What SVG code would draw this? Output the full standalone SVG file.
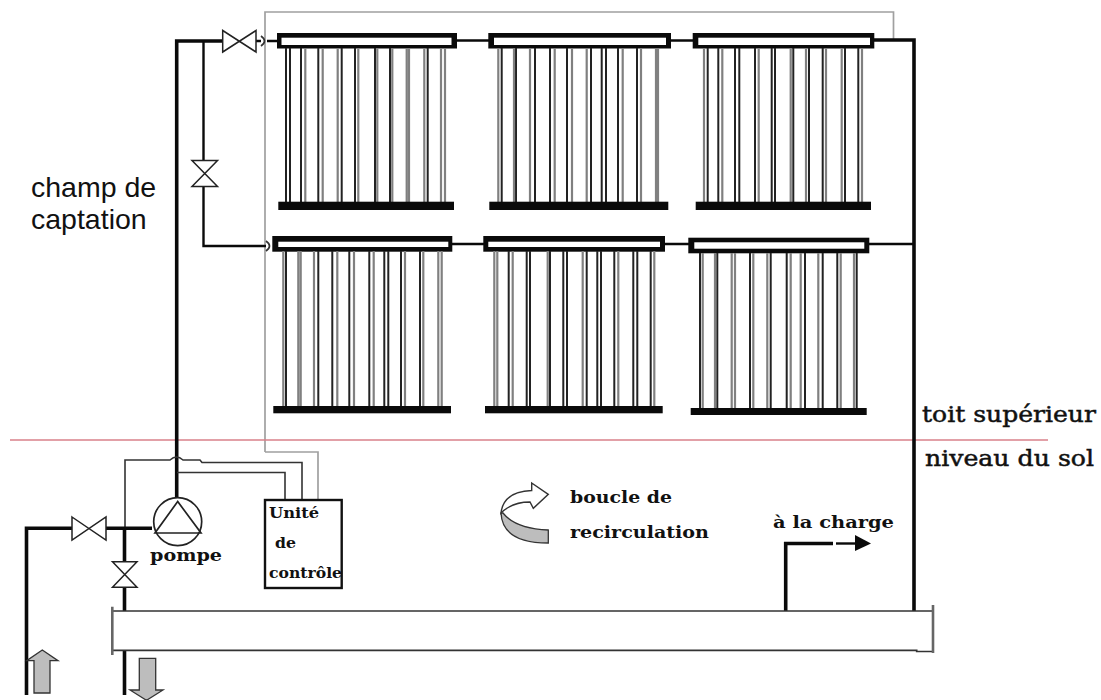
<svg xmlns="http://www.w3.org/2000/svg" width="1101" height="700" viewBox="0 0 1101 700">
<style>
.hk{fill:#0a0a0a}.hw{fill:#fff}
.tk{stroke:#222;stroke-width:2;fill:none}
.tg{stroke:#808080;stroke-width:2.2;fill:none}
.p{stroke:#0a0a0a;fill:none;stroke-linejoin:miter}
.w3{stroke-width:3.6}.w2{stroke-width:2.4}
.wire{stroke:#333;stroke-width:1.6;fill:none}
.gw{stroke:#a0a0a0;stroke-width:1.7;fill:none}
.v{fill:#fff;stroke:#222;stroke-width:1.5}
.ga{fill:#bdbdbd;stroke:#333;stroke-width:1.3}
.s{font-family:"DejaVu Serif","Liberation Serif",serif;font-weight:700;fill:#111}
.n{font-weight:400;stroke:#111;stroke-width:.5}
.a{font-family:"Liberation Sans",Arial,sans-serif;fill:#111;font-size:28.500px}
</style>
<rect width="1101" height="700" fill="#fff"/>
<g id="connectors">
<path class="gw" d="M265 452V12H893.500V40"/>
<path class="gw" d="M265 452H318V500"/>
<path d="M10 440H1048" stroke="#d9808a" stroke-width="1.500" fill="none"/>
<path class="p w3" d="M176.700 501V41H223"/>
<path class="p w2" d="M203.500 41V160M203.500 187V246H266"/>
<path class="p w2" d="M256 41H261M267 41H277"/>
<path class="gw" style="stroke:#333" d="M261 36Q268 41 261 46M266 241Q273 246 266 251"/>
<path class="p w2" d="M456 40.500H489M671 40.500H693M452 244H484M665 244H689M869 244H914"/>
<path class="p w3" d="M874 40H914V611"/>
<path class="wire" d="M125 528V460H170Q176.500 454 183 460H200L202 462.500H302V500"/>
<path class="wire" d="M177 472.500H285V500"/>
<path class="p w3" d="M72 528.300H26.500V695M106 528.300H152"/>
<path class="p w3" d="M124.500 528V561M124.500 587V611M124.500 650V695"/>
<path class="p w3" d="M785.700 611V543.500H833"/>
<path class="p w2" d="M836 543.500H856"/>
<path d="M855 535L871 543.500L855 551Z" fill="#0a0a0a"/>
</g>
<g id="collector-1">
<rect class="hk" x="277" y="33" width="180" height="15.500"/><rect class="hw" x="281.500" y="37.700" width="170" height="7.300"/>
<path class="tk" d="M286 48V203M290 48V203M301 48V203M318.300 48V203M341.700 48V203M355 48V203M375 48V203M390 48V203M427.700 48V203"/>
<path class="tg" d="M305.300 48V203M322.700 48V203M337.700 48V203M358.300 48V203M377.300 48V203M392.300 48V203M406.700 48V203M409 48V203M424.300 48V203M441 48V203M445 48V203"/>
<rect class="hk" x="278.300" y="201.700" width="175.700" height="8.300"/>
</g>
<g id="collector-2">
<rect class="hk" x="488.300" y="33" width="182.700" height="15.500"/><rect class="hw" x="494" y="37.700" width="172" height="7.300"/>
<path class="tk" d="M501.700 48V203M516 48V203M535 48V203M550 48V203M567 48V203M591 48V203M601.700 48V203M606 48V203M618 48V203M637 48V203"/>
<path class="tg" d="M498.300 48V203M514 48V203M530 48V203M554.700 48V203M572 48V203M586.700 48V203M622.700 48V203M641 48V203M656 48V203M658 48V203"/>
<rect class="hk" x="489.300" y="201.700" width="179" height="8.300"/>
</g>
<g id="collector-3">
<rect class="hk" x="692.700" y="33" width="181.600" height="15.500"/><rect class="hw" x="698.300" y="37.700" width="171.700" height="7.300"/>
<path class="tk" d="M707.700 48V203M718.300 48V203M735 48V203M739.300 48V203M755 48V203M771.700 48V203M775 48V203M793.300 48V203M809 48V203M822.700 48V203M845 48V203M858.300 48V203"/>
<path class="tg" d="M704 48V203M722.300 48V203M758.700 48V203M790.700 48V203M806 48V203M826 48V203M841.700 48V203M862 48V203"/>
<rect class="hk" x="695.700" y="201.700" width="175.300" height="8.300"/>
</g>
<g id="collector-4">
<rect class="hk" x="272.300" y="236" width="180" height="15.700"/><rect class="hw" x="278.300" y="241.700" width="170" height="5.300"/>
<path class="tk" d="M286 251V407M318.300 251V407M332.300 251V407M349.300 251V407M369.300 251V407M384.300 251V407M388.300 251V407M401 251V407M420 251V407"/>
<path class="tg" d="M283.300 251V407M298.300 251V407M300.700 251V407M314 251V407M337.300 251V407M354 251V407M373.700 251V407M405 251V407M423.300 251V407M438.300 251V407M441.700 251V407"/>
<rect class="hk" x="273.300" y="406" width="177.700" height="7.300"/>
</g>
<g id="collector-5">
<rect class="hk" x="483.300" y="236" width="181.700" height="15.700"/><rect class="hw" x="488.300" y="241.700" width="171.700" height="5.300"/>
<path class="tk" d="M508.700 251V407M526.700 251V407M530 251V407M550 251V407M563.300 251V407M567 251V407M586.700 251V407M597.300 251V407M601 251V407M614.300 251V407M633.300 251V407M637.300 251V407M650.700 251V407"/>
<path class="tg" d="M494.300 251V407M497.300 251V407M512.700 251V407M547.700 251V407M582.700 251V407M618.300 251V407M654.300 251V407"/>
<rect class="hk" x="485" y="406" width="177.700" height="7.300"/>
</g>
<g id="collector-6">
<rect class="hk" x="688.300" y="237.700" width="181" height="15.600"/><rect class="hw" x="694.300" y="242.300" width="170" height="6.400"/>
<path class="tk" d="M700 253V409M717.300 253V409M750 253V409M770.700 253V409M786.700 253V409M805 253V409M822.700 253V409M837.300 253V409M856.700 253V409"/>
<path class="tg" d="M702.700 253V409M715 253V409M731.700 253V409M735 253V409M753.300 253V409M767.300 253V409M790.700 253V409M800.700 253V409M818.300 253V409M840.700 253V409M854 253V409"/>
<rect class="hk" x="690.700" y="408" width="176" height="7"/>
</g>
<g id="valve-top"><path class="v" d="M222.700 30.500L256 52V30.500L222.700 52Z"/></g>
<g id="valve-branch"><path class="v" d="M192 160.500H217.500L192 186.500H217.500Z"/></g>
<g id="valve-inlet"><path class="v" d="M72 517L106 540V517L72 540Z"/></g>
<g id="valve-drain"><path class="v" d="M112.500 561.700H137L112.500 587.300H137Z"/></g>
<g id="pump">
<circle cx="177.700" cy="521.700" r="24" fill="#fff" stroke="#222" stroke-width="1.700"/>
<path d="M177.700 501.500L155 533H201Z" fill="none" stroke="#222" stroke-width="1.700"/>
<text class="s" x="150" y="560.700" font-size="17" textLength="72" lengthAdjust="spacingAndGlyphs">pompe</text>
</g>
<g id="control-unit">
<rect x="265" y="500" width="76.700" height="88" fill="#fff" stroke="#111" stroke-width="2.400"/>
<text class="s" x="269" y="518" font-size="15" textLength="50" lengthAdjust="spacingAndGlyphs">Unité</text>
<text class="s" x="275" y="548" font-size="15" textLength="21" lengthAdjust="spacingAndGlyphs">de</text>
<text class="s" x="269" y="578" font-size="15" textLength="73" lengthAdjust="spacingAndGlyphs">contrôle</text>
</g>
<g id="tank">
<path d="M113 611H933M113 650.300H916.700V651.500H933" stroke="#333" stroke-width="1.700" fill="none"/>
<path d="M112.300 606.700V655M933 605V653" stroke="#666" stroke-width="2.600" fill="none"/>
</g>
<g id="arrow-in"><path class="ga" d="M42.300 650L58 660.700H50V693H34V660.700H26.700Z"/></g>
<g id="arrow-out"><path class="ga" d="M139.300 658.300H155.700V690H163L147 700H146L130 690H139.300Z"/></g>
<g id="recirculation-arrow">
<path class="ga" d="M501 513C502 534 520 543 548.300 543V530C525 529 510 522 503 513Z"/>
<path d="M501 513C503 495 518 491 531.700 490.500L531.700 483L548.300 494.300L533.300 508.300L530 502C518 502 508 506 501 513Z" fill="#fff" stroke="#333" stroke-width="1.400"/>
</g>
<g id="labels">
<text class="a" x="31" y="197">champ de</text>
<text class="a" x="31" y="229">captation</text>
<text class="s n" x="922" y="422" font-size="23" textLength="174" lengthAdjust="spacingAndGlyphs">toit supérieur</text>
<text class="s n" x="925" y="465.700" font-size="23" textLength="169" lengthAdjust="spacingAndGlyphs">niveau du sol</text>
<text class="s" x="570" y="502.700" font-size="17" textLength="102" lengthAdjust="spacingAndGlyphs">boucle de</text>
<text class="s" x="570" y="538" font-size="17" textLength="139" lengthAdjust="spacingAndGlyphs">recirculation</text>
<text class="s" x="773" y="528" font-size="17" textLength="121" lengthAdjust="spacingAndGlyphs">à la charge</text>
</g>
</svg>
